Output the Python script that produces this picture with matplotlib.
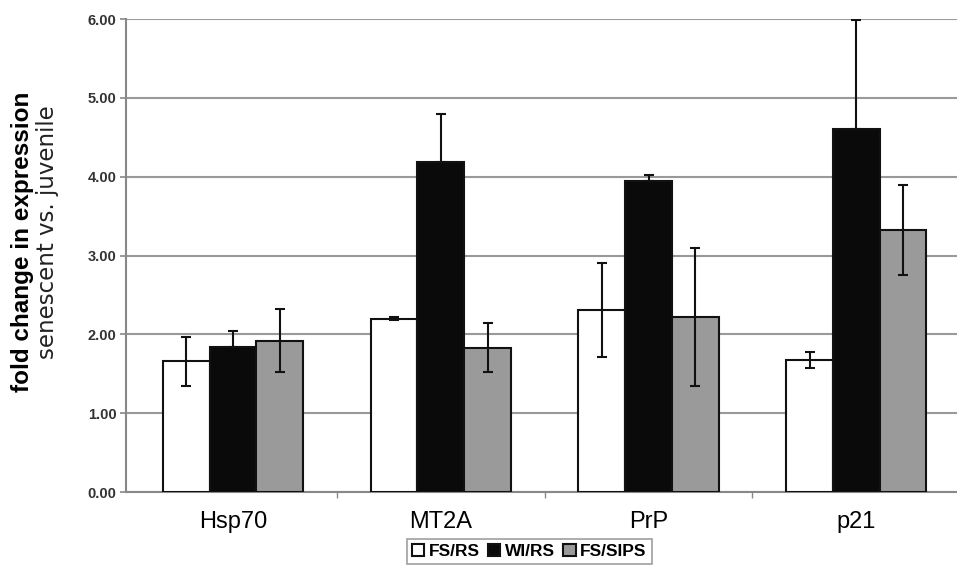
import numpy as np
import matplotlib.pyplot as plt
from matplotlib.ticker import FormatStrFormatter

plt.rcParams['font.family'] = ['Liberation Sans', 'DejaVu Sans']

# Data
genes = ['Hsp70', 'MT2A', 'PrP', 'p21']
series = ['FS/RS', 'WI/RS', 'FS/SIPS']
fs_rs = [1.66, 2.20, 2.31, 1.67]
fs_rs_err = [0.31, 0.02, 0.60, 0.10]
wi_rs = [1.84, 4.18, 3.94, 4.61]
wi_rs_err = [0.20, 0.62, 0.08, 1.38]
fs_sips = [1.92, 1.83, 2.22, 3.32]
fs_sips_err = [0.40, 0.31, 0.87, 0.57]
yticks = [0, 1, 2, 3, 4, 5, 6]

fig = plt.figure(figsize=(9.57, 5.66), dpi=100)
ax = fig.add_axes([0.1317, 0.1307, 0.8683, 0.8357])

x = np.arange(len(genes))
w = 0.225
colors = ['white', '#0a0a0a', '#9a9a9a']
vals = [fs_rs, wi_rs, fs_sips]
# the lower half of the black bars' error bars is hidden in the fill
errs = [fs_rs_err, [np.zeros(4), wi_rs_err], fs_sips_err]
for i in range(3):
    ax.bar(x + (i - 1) * w, vals[i], w, color=colors[i], edgecolor='#111111',
           linewidth=1.5, label=series[i], zorder=3,
           yerr=errs[i], capsize=3.5,
           error_kw=dict(ecolor='#111111', elinewidth=1.5, capthick=1.5, zorder=4))

ax.set_xlim(-0.515, 3.485)
ax.set_ylim(0, 6)
ax.set_yticks(yticks)
ax.yaxis.set_major_formatter(FormatStrFormatter('%.2f'))
ax.grid(axis='y', color='#999999', linewidth=1.5, zorder=0)
ax.set_axisbelow(True)

ax.set_xticks(x)
ax.set_xticklabels(genes, fontsize=17)
ax.set_xticks([0.5, 1.5, 2.5], minor=True)
ax.tick_params(axis='x', which='major', length=0, pad=14)
ax.tick_params(axis='x', which='minor', length=4, color='#888888', width=1)
ax.tick_params(axis='y', length=4, color='#888888', width=1.2, pad=3)
for lbl in ax.get_yticklabels():
    lbl.set_fontweight('bold')
    lbl.set_fontsize(10.5)
    lbl.set_color('#333333')

for s in ['top', 'right']:
    ax.spines[s].set_visible(False)
for s in ['left', 'bottom']:
    ax.spines[s].set_color('#888888')
    ax.spines[s].set_linewidth(1.5)

fig.text(0.023, 0.573, 'fold change in expression', rotation=90, ha='center',
         va='center', fontsize=17.5, fontweight='bold')
fig.text(0.050, 0.59, 'senescent vs. juvenile', rotation=90, ha='center',
         va='center', fontsize=16.5, family=['DejaVu Sans'], color='#222222')

leg = fig.legend(loc='lower center', bbox_to_anchor=(0.553, -0.012), ncol=3,
                 frameon=True, fancybox=False, edgecolor='#888888',
                 handlelength=0.7, handleheight=0.7, handletextpad=0.25,
                 columnspacing=0.5, borderpad=0.3,
                 prop={'weight': 'bold', 'size': 12.5})
leg.get_frame().set_linewidth(1.2)

fig.savefig('out.png', dpi=100)
